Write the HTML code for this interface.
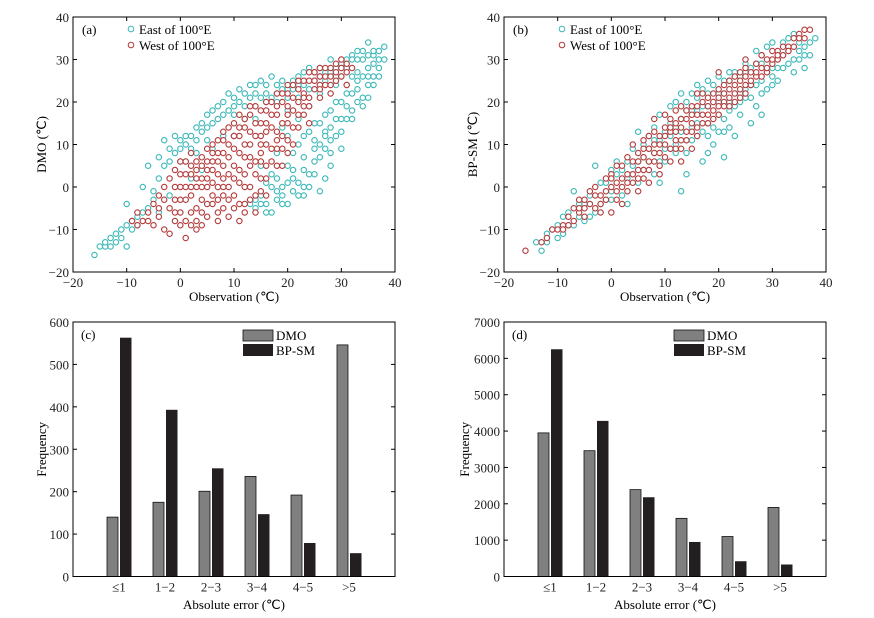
<!DOCTYPE html>
<html><head><meta charset="utf-8">
<style>
html,body{margin:0;padding:0;background:#fff;}
svg{display:block;font-family:"Liberation Serif",serif;}
</style></head>
<body>
<svg id="fig" width="874" height="618" viewBox="0 0 874 618" xmlns="http://www.w3.org/2000/svg"></svg>
<script>
const aEast=[[-16,-16],[-14,-14],[-13,-12],[-12,-11],[-11,-10],[-10,-9],[-10,-14],[-10,-4],[-9,-8],[-8,-7],[-7,0],[-6,5],[-5,-3],[-4,7],[-3,11],[-3,5],[-2,9],[-1,12],[0,11],[1,10],[2,12],[1,6],[3,14],[4,15],[5,17],[6,18],[7,16],[8,20],[9,22],[10,21],[11,23],[12,22],[13,24],[14,22],[15,25],[16,24],[17,26],[18,24],[19,25],[20,23],[21,25],[22,26],[23,27],[24,28],[25,27],[26,28],[28,30],[30,29],[31,30],[32,31],[33,32],[34,30],[35,34],[36,31],[37,28],[38,33],[36,26],[35,24],[34,21],[33,23],[32,18],[31,19],[30,16],[29,20],[28,14],[27,13],[26,10],[27,17],[28,8],[28,5],[26,-1],[25,6],[24,3],[23,0],[22,-2],[21,2],[20,-4],[19,0],[18,-3],[17,-6],[16,-4],[15,-2],[14,-5],[13,-4],[21,8],[23,12],[25,15],[24,19],[22,16],[20,12],[18,8],[19,14],[17,3],[15,5],[26,22],[29,24],[31,24],[33,27],[35,28],[37,30],[8,12],[6,9],[4,4],[2,2],[-2,-2],[-4,-6],[-6,-5],[-8,-9],[-12,-13],[-14,-13],[10,17],[12,16],[5,11],[3,8],[0,6],[14,16],[16,20],[18,20],[20,18],[22,21],[24,23],[27,25],[29,28],[30,26],[32,26],[34,26],[36,29],[25,11],[23,7],[21,4],[19,-2],[27,2],[30,9],
[-15,-14],[-13,-14],[-11,-12],[-9,-10],[-7,-6],[-5,-1],[-4,2],[-2,6],[-1,8],[0,9],[1,12],[2,9],[3,11],[4,13],[5,14],[6,15],[7,19],[8,17],[9,18],[10,19],[11,20],[12,19],[13,21],[14,24],[15,21],[16,22],[17,21],[18,22],[19,23],[20,21],[21,23],[22,24],[23,24],[25,25],[26,26],[27,27],[28,27],[29,26],[30,28],[31,28],[32,30],[33,30],[34,32],[35,31],[36,32],[37,32],[38,30],[37,26],[36,24],[35,21],[34,19],[33,20],[32,16],[31,16],[30,13],[29,12],[28,11],[27,9],[26,7],[25,3],[24,0],[23,-2],[22,1],[21,-1],[20,1],[19,-4],[18,-1],[17,0],[16,-6],[15,-4],[14,-3],[22,10],[24,13],[26,15],[28,18],[30,20],[32,22],[20,5],[18,2],[16,1],[23,4],[25,9],[27,12],[29,16],[31,22],[33,25],[35,26]];
const aWest=[[-9,-8],[-8,-9],[-7,-8],[-6,-6],[-5,-4],[-5,-9],[-4,-2],[-4,-7],[-3,-10],[-3,0],[-2,2],[-2,-5],[-2,-11],[-1,-3],[-1,4],[0,0],[0,-6],[0,6],[1,3],[1,-3],[1,-8],[1,-12],[2,-9],[2,5],[2,8],[3,0],[3,-5],[3,-10],[4,2],[4,7],[4,-3],[5,4],[5,-7],[5,9],[6,1],[6,6],[6,-4],[6,10],[7,-8],[7,3],[7,8],[8,-2],[8,5],[8,11],[9,-7],[9,0],[9,14],[9,7],[10,2],[10,9],[10,-5],[10,15],[11,-8],[11,4],[11,12],[11,17],[12,0],[12,7],[12,14],[13,-3],[13,10],[13,17],[14,-6],[14,3],[14,12],[14,19],[15,6],[15,15],[15,-1],[16,10],[16,18],[16,2],[17,14],[17,20],[17,6],[18,9],[18,17],[18,22],[19,12],[19,20],[19,5],[20,15],[20,22],[21,18],[21,24],[21,10],[22,20],[22,25],[22,14],[23,22],[23,17],[24,25],[24,19],[25,23],[25,27],[26,21],[26,26],[27,24],[27,28],[28,22],[28,26],[29,25],[29,29],[30,26],[30,30],[31,27],[31,24],[32,28],[5,0],[7,-3],[3,4],[12,-4],[13,5],[8,2],[15,10],[20,8],[24,15],[2,-2],[0,3],[-1,-8],[4,-9],[16,13],[20,19],[10,12],[18,13],[23,21],[26,24],
[-8,-6],[-6,-8],[-4,-5],[-3,-3],[-1,0],[-1,-6],[0,-3],[0,-9],[1,0],[1,6],[2,-6],[2,0],[2,3],[3,-8],[3,2],[3,6],[4,-6],[4,0],[4,5],[5,-4],[5,2],[5,6],[6,-2],[6,4],[6,8],[7,-6],[7,0],[7,6],[7,11],[8,-5],[8,0],[8,8],[8,13],[9,-3],[9,3],[9,10],[10,-2],[10,5],[10,12],[11,-4],[11,1],[11,8],[11,14],[12,-6],[12,3],[12,10],[12,16],[13,0],[13,7],[13,13],[13,19],[14,-2],[14,6],[14,15],[15,2],[15,8],[15,12],[15,18],[16,-2],[16,5],[16,15],[16,20],[17,9],[17,17],[18,5],[18,11],[18,19],[19,9],[19,15],[19,22],[20,11],[20,17],[20,24],[21,14],[21,21],[22,17],[22,23],[23,19],[23,25],[24,21],[24,27],[25,25],[26,23],[26,28],[27,26],[28,24],[28,28],[29,27],[30,28],[31,29]];
const bEast=[[-14,-13],[-13,-15],[-12,-13],[-11,-10],[-10,-12],[-9,-7],[-9,-11],[-8,-9],[-7,-1],[-6,-4],[-5,-8],[-4,-2],[-3,5],[-3,-6],[-2,1],[-1,-3],[0,4],[0,-1],[1,6],[2,-2],[3,2],[3,-4],[4,9],[5,13],[5,1],[6,10],[6,4],[7,12],[8,14],[8,3],[9,17],[9,1],[10,13],[10,6],[11,19],[11,9],[12,20],[12,10],[13,-1],[13,22],[13,13],[14,3],[14,18],[14,8],[15,22],[15,14],[16,24],[16,12],[17,23],[17,6],[18,25],[18,15],[18,8],[19,20],[19,10],[20,26],[20,17],[21,7],[21,25],[21,13],[22,27],[22,20],[22,14],[23,12],[23,26],[24,22],[24,17],[25,29],[25,21],[26,15],[26,28],[27,19],[27,32],[28,17],[28,25],[29,23],[29,33],[30,28],[30,34],[31,30],[31,25],[32,34],[32,28],[33,35],[33,29],[34,36],[34,27],[35,32],[35,30],[36,33],[37,34],[38,35],[36,28],[20,22],[16,18],[12,14],[8,8],[4,5],[-4,-4],[24,26],[28,29],[30,24],[26,24],[18,19],
[-12,-11],[-10,-9],[-8,-6],[-7,-9],[-6,-7],[-5,-4],[-4,-7],[-2,-4],[-1,1],[0,-3],[1,3],[2,4],[3,6],[4,3],[5,6],[6,7],[7,6],[7,9],[8,11],[9,6],[9,11],[10,9],[11,12],[11,15],[12,8],[13,16],[14,11],[14,20],[15,11],[15,18],[16,15],[16,21],[17,13],[17,19],[18,12],[18,22],[19,14],[19,24],[20,13],[20,20],[21,16],[21,22],[22,18],[22,25],[23,19],[23,27],[24,20],[25,23],[25,27],[26,21],[27,24],[27,29],[28,22],[28,31],[29,27],[30,26],[31,28],[32,31],[33,32],[34,30],[35,34],[36,31],[37,31]];
const bWest=[[-16,-15],[-13,-13],[-11,-10],[-10,-10],[-9,-9],[-8,-7],[-7,-8],[-7,-5],[-6,-6],[-5,-3],[-5,-7],[-4,-4],[-4,-1],[-3,-5],[-3,0],[-2,-2],[-2,-6],[-1,2],[-1,-1],[0,0],[0,-6],[0,3],[1,1],[1,-3],[2,5],[2,-4],[2,2],[3,3],[3,-1],[3,7],[4,6],[4,1],[4,10],[5,4],[5,-1],[5,8],[6,7],[6,2],[6,11],[7,9],[7,4],[8,10],[8,6],[8,16],[9,12],[9,3],[9,8],[10,14],[10,10],[10,17],[11,13],[11,6],[11,16],[12,15],[12,9],[12,18],[13,14],[13,6],[13,19],[14,16],[14,11],[15,19],[15,13],[16,17],[16,22],[16,12],[17,20],[17,15],[18,21],[18,17],[19,22],[19,16],[20,23],[20,27],[20,19],[21,24],[21,20],[22,25],[22,21],[23,26],[23,20],[24,27],[24,23],[25,28],[25,30],[25,24],[26,27],[26,24],[27,29],[27,26],[28,31],[28,28],[29,30],[29,27],[30,32],[30,29],[31,32],[31,30],[32,33],[33,33],[34,35],[35,36],[36,37],[37,37],[36,35],[15,9],[13,11],[7,1],[1,5],[-6,-3],
[-12,-12],[-9,-10],[-8,-9],[-6,-5],[-5,-5],[-3,-2],[-2,-4],[-1,-3],[0,2],[1,-1],[2,0],[3,1],[4,3],[5,2],[5,6],[6,4],[6,9],[7,6],[7,12],[8,8],[8,13],[9,10],[9,5],[10,7],[10,12],[11,9],[11,14],[12,11],[12,13],[13,9],[13,16],[14,13],[14,18],[15,15],[15,17],[16,14],[16,19],[17,17],[17,22],[18,15],[18,19],[19,18],[19,20],[20,17],[20,21],[21,19],[21,22],[22,19],[22,23],[23,22],[23,24],[24,21],[24,25],[25,22],[25,26],[26,25],[27,27],[28,26],[29,28],[30,30],[31,31],[32,31],[33,32],[34,33],[35,35]];
const scatterTicks=[-20,-10,0,10,20,30,40];
const categories=["≤1","1−2","2−3","3−4","4−5",">5"];
const cDMO=[140,175,201,236,192,546];
const cBPSM=[563,393,255,147,79,55];
const dDMO=[3950,3460,2390,1600,1100,1900];
const dBPSM=[6250,4280,2180,950,420,330];
const cTicks=[0,100,200,300,400,500,600];
const dTicks=[0,1000,2000,3000,4000,5000,6000,7000];

const svg=document.getElementById('fig');
const NS="http://www.w3.org/2000/svg";
function mk(tag,attrs,parent){const e=document.createElementNS(NS,tag);for(const k in attrs)e.setAttribute(k,attrs[k]);(parent||svg).appendChild(e);return e;}
function txt(s,attrs,parent){const e=mk('text',attrs,parent);e.textContent=s;return e;}

function frame(g,L,R,T,B,yTicks,ymap,xTicks,xmap){
  mk('rect',{x:L,y:T,width:R-L,height:B-T,fill:'none',stroke:'#000','stroke-width':1},g);
  yTicks.forEach(v=>{const y=ymap(v);
    mk('line',{x1:L,x2:L+4,y1:y,y2:y,stroke:'#000'},g);
    mk('line',{x1:R,x2:R-4,y1:y,y2:y,stroke:'#000'},g);
    const t=txt(String(v).replace('-','−'),{x:L-4,y:y+5,'text-anchor':'end','font-size':13,fill:'#222'},g);
    
    
  });
  if(xTicks){xTicks.forEach(v=>{const x=xmap(v);
    mk('line',{x1:x,x2:x,y1:B,y2:B-4,stroke:'#000'},g);
    mk('line',{x1:x,x2:x,y1:T,y2:T+4,stroke:'#000'},g);
    const t=txt(String(v).replace('-','−'),{x:x,y:B+15,'text-anchor':'middle','font-size':13,fill:'#222'},g);
    
    
  });}
}

function scatterPanel(name,L,letter,ylabel,east,west){
  const R=L+322,T=17,B=272;
  const g=mk('g',{});
  
  
  const xm=v=>L+(v+20)/60*(R-L);
  const ym=v=>B-(v+20)/60*(B-T);
  const pts=mk('g',{},g);
  east.forEach(p=>{const c=mk('circle',{cx:xm(p[0]),cy:ym(p[1]),r:2.7,fill:'#fff',stroke:'#3cb8b8','stroke-width':1.1},pts);
    
    });
  west.forEach(p=>{const c=mk('circle',{cx:xm(p[0]),cy:ym(p[1]),r:2.7,fill:'#fff',stroke:'#b53a3a','stroke-width':1.1},pts);
    
    });
  frame(g,L,R,T,B,scatterTicks,ym,scatterTicks,xm);
  const pl=txt('('+letter+')',{x:L+9,y:34,'font-size':13},g);
  
  
  const lx=L+58;
  const e1=mk('circle',{cx:lx,cy:29,r:2.8,fill:'#fff',stroke:'#3cb8b8'},g);
  
  
  const t1=txt('East  of  100°E',{x:lx+8,y:34,'font-size':13,'xml:space':'preserve'},g);
  
  
  const e2=mk('circle',{cx:lx,cy:45,r:2.8,fill:'#fff',stroke:'#b53a3a'},g);
  
  
  const t2=txt('West  of  100°E',{x:lx+8,y:50,'font-size':13,'xml:space':'preserve'},g);
  
  
  const xl=txt('Observation (℃)',{x:(L+R)/2,y:301,'text-anchor':'middle','font-size':13},g);
  
  
  const yl=txt(ylabel,{x:0,y:0,'text-anchor':'middle','font-size':13,transform:`translate(${L-27},${(T+B)/2}) rotate(-90)`},g);
  
  
}

function barPanel(name,L,letter,dmo,bp,ticks,ymax,ylabelX){
  const R=L+322,T=322,B=576.5;
  const g=mk('g',{});
  
  
  const ym=v=>B-v/ymax*(B-T);
  const xc=i=>L+(i+1)*(R-L)/7;
  categories.forEach((c,i)=>{
    const cx=xc(i);
    const b1=mk('rect',{x:cx-12,y:ym(dmo[i]),width:11,height:B-ym(dmo[i]),fill:'#808080',stroke:'#111','stroke-width':0.8},g);
    
    
    const b2=mk('rect',{x:cx+1,y:ym(bp[i]),width:11.5,height:B-ym(bp[i]),fill:'#231f20'},g);
    
    
    const t=txt(c,{x:cx,y:B+15,'text-anchor':'middle','font-size':13,fill:'#222'},g);
    
    
  });
  frame(g,L,R,T,B,ticks,ym,null,null);
  const pl=txt('('+letter+')',{x:L+8,y:339,'font-size':13},g);
  
  
  const lx=L+170;
  const r1=mk('rect',{x:lx,y:330,width:30,height:11,fill:'#808080',stroke:'#111','stroke-width':0.8},g);
  
  
  const l1=txt('DMO',{x:lx+33,y:340,'font-size':13},g);
  
  
  const r2=mk('rect',{x:lx,y:344,width:30,height:12,fill:'#231f20'},g);
  
  
  const l2=txt('BP-SM',{x:lx+33,y:355,'font-size':13},g);
  
  
  const xl=txt('Absolute  error (℃)',{x:(L+R)/2,y:609,'text-anchor':'middle','font-size':13,'xml:space':'preserve'},g);
  
  
  const yl=txt('Frequency',{x:0,y:0,'text-anchor':'middle','font-size':13,transform:`translate(${ylabelX},${(T+B)/2}) rotate(-90)`},g);
  
  
}

scatterPanel('panel-a-scatter',73,'a','DMO (℃)',aEast,aWest);
scatterPanel('panel-b-scatter',504,'b','BP-SM (℃)',bEast,bWest);
barPanel('panel-c-bars',73,'c',cDMO,cBPSM,cTicks,600,46);
barPanel('panel-d-bars',504,'d',dDMO,dBPSM,dTicks,7000,469);
</script>
</body></html>
